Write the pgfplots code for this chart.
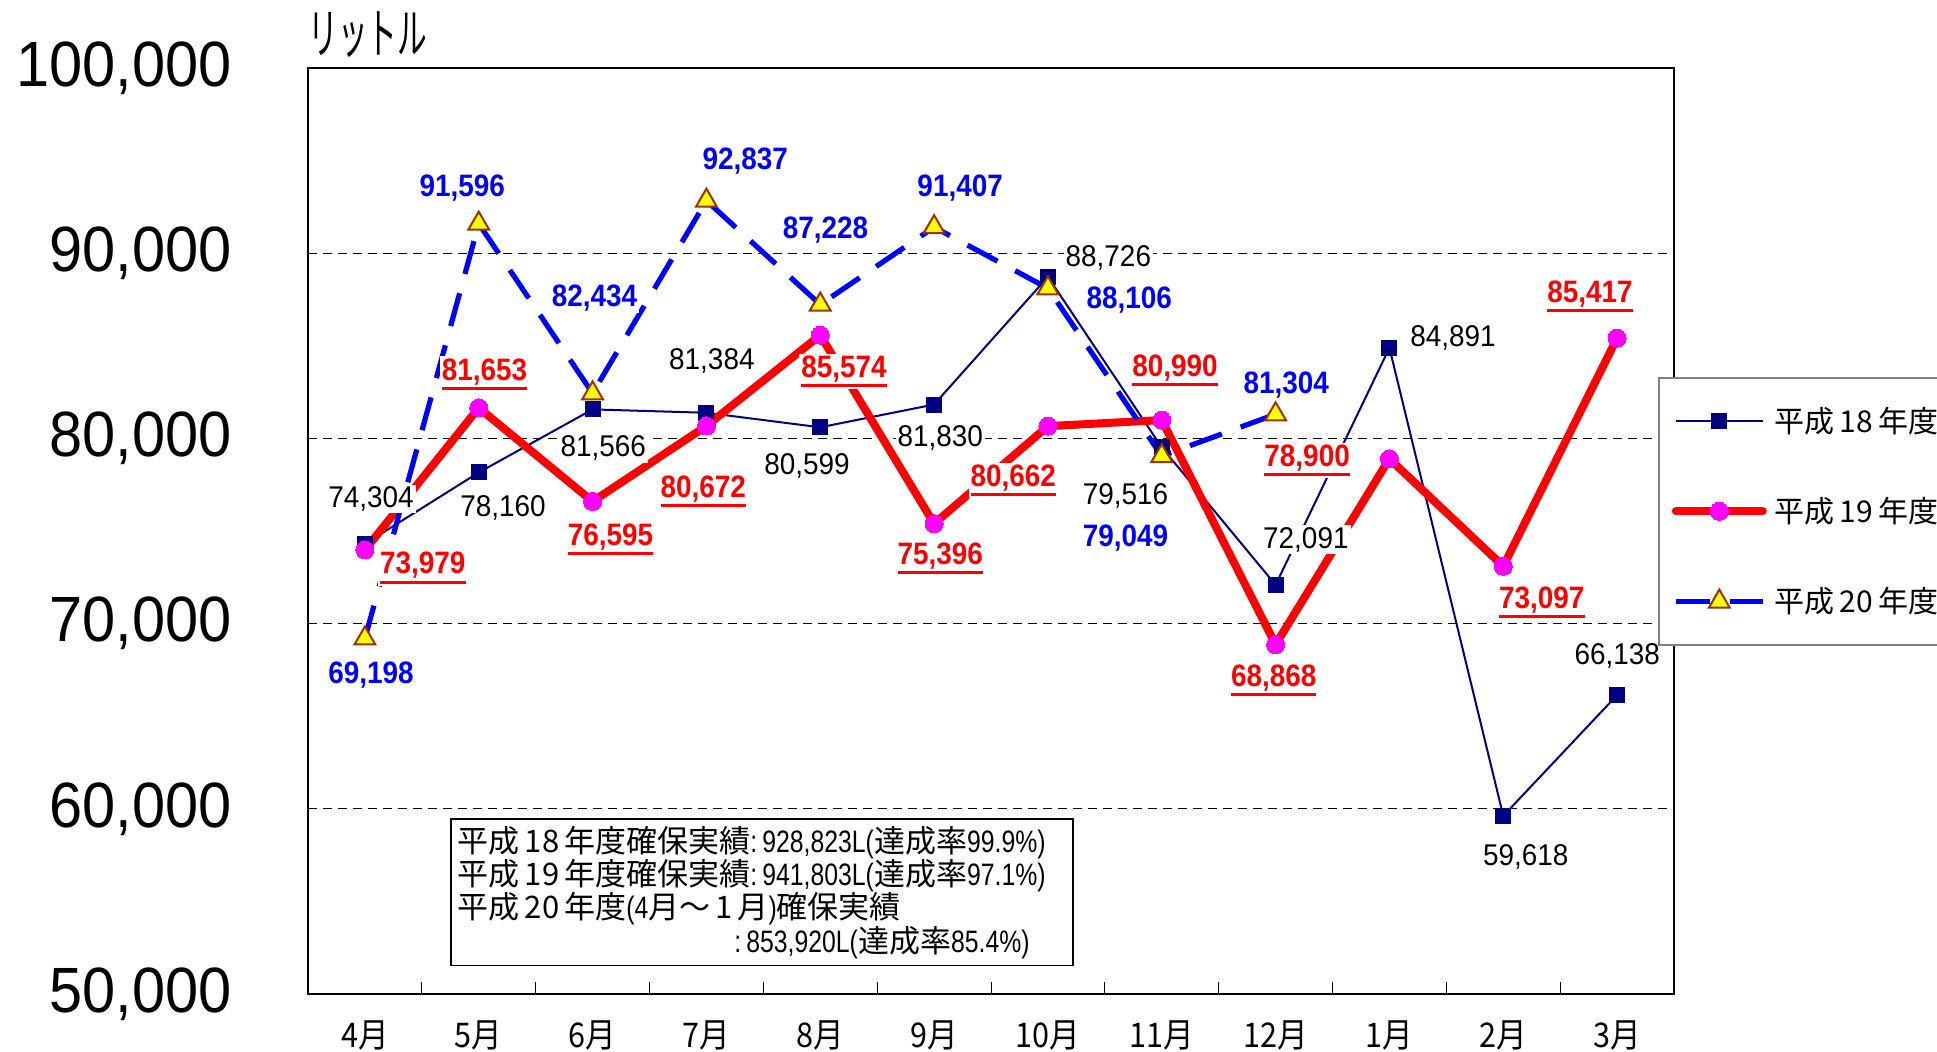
\documentclass[border=0pt]{standalone}
\usepackage{fontspec}
\usepackage{pgfplots}
\pgfplotsset{compat=1.18}
\setmainfont{Noto Sans CJK JP}
\newfontfamily\cjk{Noto Sans CJK JP}
\newfontfamily\cjknar[FakeStretch=0.55]{Noto Sans CJK JP}
\newfontfamily\cjkmid[FakeStretch=0.9]{Noto Sans CJK JP}
\newfontfamily\ytf[FakeStretch=0.93]{Liberation Sans}
\newfontfamily\labr[FakeStretch=0.93]{Liberation Sans}
\newfontfamily\labb[FakeStretch=0.9]{Liberation Sans}
\newfontfamily\boxn[FakeStretch=0.8]{Liberation Sans}
\definecolor{navyc}{RGB}{0,0,128}
\definecolor{brownc}{RGB}{153,51,0}
\definecolor{magc}{RGB}{255,0,255}
\definecolor{yelc}{RGB}{255,255,0}
\definecolor{redc}{RGB}{255,0,0}
\definecolor{bluec}{RGB}{0,0,255}
\newcommand\ulr[1]{\vtop{\hbox{#1}\kern1pt\hrule height1.5pt}}
\newcommand\dg[1]{\kern2.5pt#1\kern2.5pt}
\tikzset{
 l18/.style={font=\labr\fontsize{15}{17}\selectfont, text=black, fill=white, inner sep=1pt},
 l19/.style={font=\labb\bfseries\fontsize{15.5}{17}\selectfont, text=redc, fill=white, inner sep=1pt},
 l20/.style={font=\labb\bfseries\fontsize{15.5}{17}\selectfont, text=bluec, fill=white, inner sep=1pt},
}
\begin{document}
\begin{tikzpicture}
\path[use as bounding box] (-154pt,-28.5pt) rectangle (814.5pt,497pt);
\begin{axis}[
  at={(0pt,0pt)}, anchor=south west,
  width=683pt, height=463pt, scale only axis,
  xmin=-0.5, xmax=11.5, ymin=50000, ymax=100000,
  enlargelimits=false, clip=false,
  scaled y ticks=false,
  axis line style={line width=1.2pt},
  xtick={0,1,2,3,4,5,6,7,8,9,10,11},
  xticklabels={4月,5月,6月,7月,8月,9月,10月,11月,12月,1月,2月,3月},
  extra x ticks={0.5,1.5,2.5,3.5,4.5,5.5,6.5,7.5,8.5,9.5,10.5},
  extra x tick labels={},
  extra x tick style={major tick length=6pt, tick align=inside, major tick style={line width=0.5pt,black}},
  xtick pos=bottom, ytick pos=left,
  major tick length=0pt,
  ytick={50000,60000,70000,80000,90000,100000},
  yticklabels={{50,000},{60,000},{70,000},{80,000},{90,000},{100,000}},
  yticklabel style={font=\ytf\fontsize{32}{36}\selectfont, anchor=east, inner sep=0pt, xshift=-38pt},
  xticklabel style={font=\cjkmid\fontsize{17}{19}\selectfont, anchor=center, inner sep=0pt, yshift=-20.5pt},
  ymajorgrids,
  major grid style={black, line width=0.5pt, dash pattern=on 4.5pt off 3pt},
  legend image code/.code={\draw[mark repeat=2,mark phase=2,#1] plot coordinates {(0pt,0pt) (21.75pt,0pt) (43.5pt,0pt)};},
  legend cell align=left,
  legend style={at={(rel axis cs:0.9883,0.6663)}, anchor=north west, draw=gray, line width=0.8pt, fill=white,
    font=\cjk\fontsize{15}{17}\selectfont, inner xsep=6.5pt, inner ysep=12.5pt, row sep=27pt,
    nodes={inner sep=2pt}, column sep=2pt},
]
\addplot[color=navyc, line width=1pt, mark=square*, mark size=3.75pt, mark options={fill=navyc, draw=navyc, line width=0pt}]
 coordinates {(0,74304)(1,78160)(2,81566)(3,81384)(4,80599)(5,81830)(6,88726)(7,79516)(8,72091)(9,84891)(10,59618)(11,66138)};
\addlegendentry{平成\dg{18}年度}
\addplot[color=redc, line width=4pt, line join=round, line cap=round, mark=*, mark size=4.5pt, mark options={fill=magc, draw=magc, line width=0pt}]
 coordinates {(0,73979)(1,81653)(2,76595)(3,80672)(4,85574)(5,75396)(6,80662)(7,80990)(8,68868)(9,78900)(10,73097)(11,85417)};
\addlegendentry{平成\dg{19}年度}
\addplot[color=bluec, line width=2.6pt, dash pattern=on 17pt off 10pt, mark=triangle*, mark size=6pt, mark options={solid, fill=yelc, draw=brownc, line width=1pt}]
 coordinates {(0,69198)(1,91596)(2,82434)(3,92837)(4,87228)(5,91407)(6,88106)(7,79049)(8,81304)};
\addlegendentry{平成\dg{20}年度}

\node[l18] at (axis cs:0.053,76733) {74,304};
\node[l18] at (axis cs:1.214,76267) {78,160};
\node[l18] at (axis cs:2.093,79467) {81,566};
\node[l18] at (axis cs:3.048,84200) {81,384};
\node[l18] at (axis cs:3.883,78533) {80,599};
\node[l18] at (axis cs:5.055,80000) {81,830};
\node[l18] at (axis cs:6.531,89733) {88,726};
\node[l18] at (axis cs:6.682,76867) {79,516};
\node[l18] at (axis cs:8.266,74533) {72,091};
\node[l18] at (axis cs:9.558,85400) {84,891};
\node[l18] at (axis cs:10.198,57400) {59,618};
\node[l18] at (axis cs:11.001,68267) {66,138};

\node[l19] at (axis cs:0.509,73000) {\ulr{73,979}};
\node[l19] at (axis cs:1.051,83467) {\ulr{81,653}};
\node[l19] at (axis cs:2.158,74533) {\ulr{76,595}};
\node[l19] at (axis cs:2.972,77133) {\ulr{80,672}};
\node[l19] at (axis cs:4.209,83600) {\ulr{85,574}};
\node[l19] at (axis cs:5.055,73533) {\ulr{75,396}};
\node[l19] at (axis cs:5.695,77733) {\ulr{80,662}};
\node[l19] at (axis cs:7.116,83667) {\ulr{80,990}};
\node[l19] at (axis cs:7.984,66933) {\ulr{68,868}};
\node[l19] at (axis cs:8.277,78800) {\ulr{78,900}};
\node[l19] at (axis cs:10.339,71133) {\ulr{73,097}};
\node[l19] at (axis cs:10.762,87667) {\ulr{85,417}};

\node[l20] at (axis cs:0.053,67200) {69,198};
\node[l20] at (axis cs:0.856,93533) {91,596};
\node[l20] at (axis cs:2.017,87600) {82,434};
\node[l20] at (axis cs:3.341,95000) {92,837};
\node[l20] at (axis cs:4.046,91267) {87,228};
\node[l20] at (axis cs:5.229,93533) {91,407};
\node[l20] at (axis cs:6.715,87467) {88,106};
\node[l20] at (axis cs:6.682,74600) {79,049};
\node[l20] at (axis cs:8.093,82867) {81,304};

\node[draw, line width=0.8pt, fill=white, anchor=north west, inner sep=3.5pt, text width=304pt, align=left,
  font=\cjk\fontsize{15.5}{16.7}\selectfont] at (rel axis cs:0.104,0.190)
 {平成\dg{18}年度確保実績{\boxn :\,928,823L(}達成率{\boxn 99.9\%)}\\
  平成\dg{19}年度確保実績{\boxn :\,941,803L(}達成率{\boxn 97.1\%)}\\
  平成\dg{20}年度{\boxn (4}月～\dg{1}月{\boxn )}確保実績\\
  \phantom{平成\dg{18}年度確保実績}\hspace{-8pt}{\boxn :\,853,920L(}達成率{\boxn 85.4\%)}};

\node[anchor=west, inner sep=0pt, yshift=16.5pt, font=\cjknar\fontsize{27}{30}\selectfont] at (rel axis cs:0,1) {リットル};
\end{axis}
\end{tikzpicture}
\end{document}
